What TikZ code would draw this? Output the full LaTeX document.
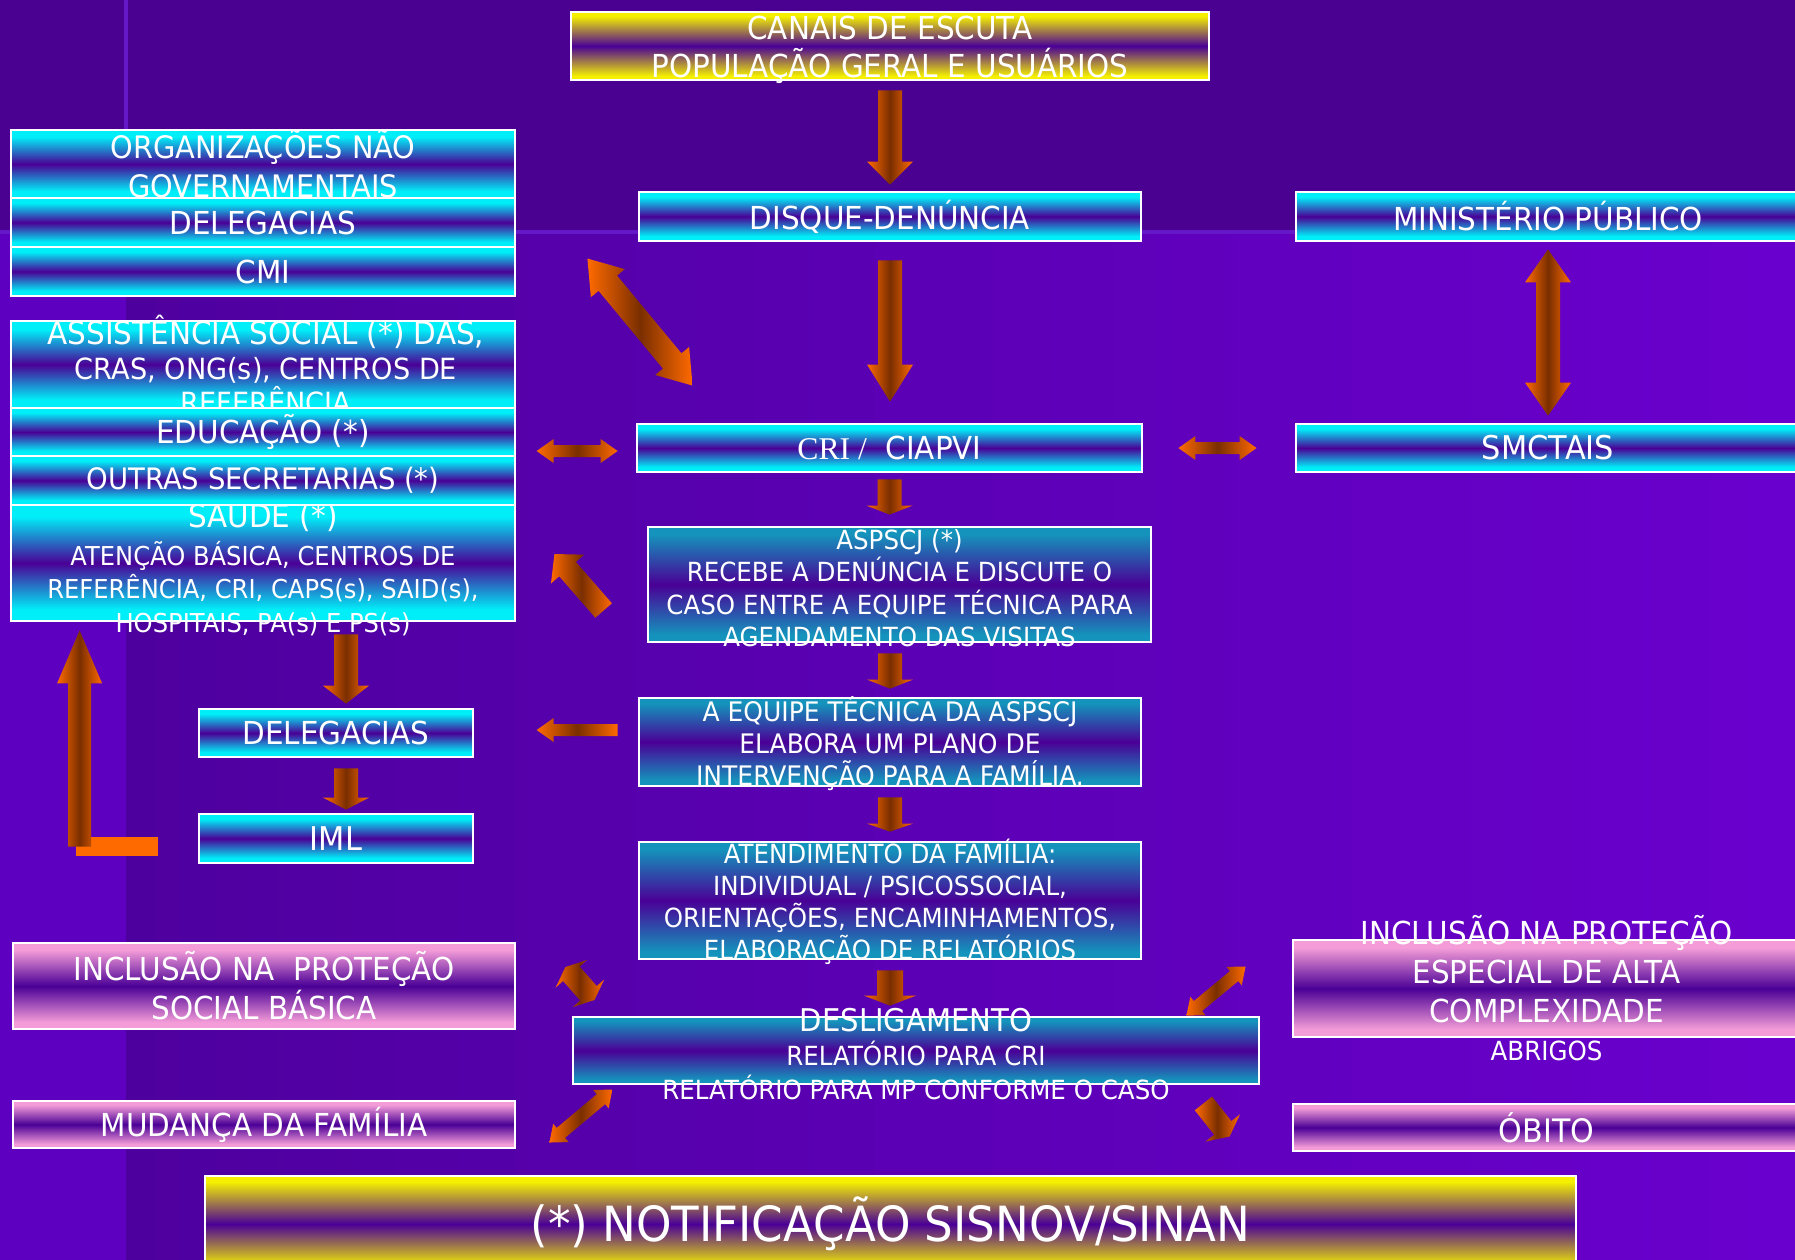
\documentclass[tikz,border=0pt]{standalone}
\usepackage{fontspec}
\setmainfont{DejaVu Sans}[FakeStretch=0.93]
\newfontfamily\crifont{Liberation Serif}
\usetikzlibrary{calc,fit}

\definecolor{bgtop}{HTML}{4A0090}
\definecolor{bgmid}{HTML}{4E009E}
\definecolor{bgright}{HTML}{6A00CE}
\definecolor{bgstrip}{HTML}{5E00C0}
\definecolor{bgline}{HTML}{6418C8}
\definecolor{cyanlight}{HTML}{00EEF8}
\definecolor{tealdark}{HTML}{1494BC}
\definecolor{pinklight}{HTML}{F49CD8}
\definecolor{yellowlight}{HTML}{F4F000}
\definecolor{boxpurple}{HTML}{4A0096}
\definecolor{arrorange}{HTML}{FF6A00}
\definecolor{arrbrown}{HTML}{7A2E00}

\pgfdeclareverticalshading{cyanbar}{100bp}{color(0bp)=(cyanlight); color(30bp)=(cyanlight); color(50bp)=(boxpurple); color(70bp)=(cyanlight); color(100bp)=(cyanlight)}
\pgfdeclareverticalshading{tealbar}{100bp}{color(0bp)=(tealdark); color(28bp)=(tealdark); color(50bp)=(boxpurple); color(72bp)=(tealdark); color(100bp)=(tealdark)}
\pgfdeclareverticalshading{pinkbar}{100bp}{color(0bp)=(pinklight); color(29bp)=(pinklight); color(50bp)=(boxpurple); color(71bp)=(pinklight); color(100bp)=(pinklight)}
\pgfdeclareverticalshading{yellowbar}{100bp}{color(0bp)=(yellowlight); color(28bp)=(yellowlight); color(50bp)=(boxpurple); color(72bp)=(yellowlight); color(100bp)=(yellowlight)}

\tikzset{
	shaft w/.store in=\baw, head w/.store in=\bah, head l/.store in=\bal,
	shaft w=0.12cm, head w=0.23cm, head l=0.25cm,
	small/.style={shaft w=0.06cm, head w=0.12cm, head l=0.17cm},
	arrowfill/.style={left color=arrorange, right color=arrorange, middle color=arrbrown}
}

% block arrow with one head, from #2 to #3
\newcommand{\onearrow}[3][]{%
	\begin{scope}[#1]
		\coordinate (ta) at (#2);
		\coordinate (tb) at (#3);
		\coordinate (hb) at ($(tb)!\bal!(ta)$);
		\shade[arrowfill] ($(ta)!\baw!90:(tb)$) -- ($(hb)!\baw!-90:(ta)$) -- ($(hb)!\bah!-90:(ta)$) -- (tb) -- ($(hb)!\bah!90:(ta)$) -- ($(hb)!\baw!90:(ta)$) -- ($(ta)!\baw!-90:(tb)$) -- cycle;
	\end{scope}}
% block arrow with two heads
\newcommand{\twoarrow}[3][]{%
	\begin{scope}[#1]
		\coordinate (ta) at (#2);
		\coordinate (tb) at (#3);
		\coordinate (ha) at ($(ta)!\bal!(tb)$);
		\coordinate (hb) at ($(tb)!\bal!(ta)$);
		\shade[arrowfill] (ta) -- ($(ha)!\bah!90:(tb)$) -- ($(ha)!\baw!90:(tb)$) -- ($(hb)!\baw!-90:(ta)$) -- ($(hb)!\bah!-90:(ta)$) -- (tb) -- ($(hb)!\bah!90:(ta)$) -- ($(hb)!\baw!90:(ta)$) -- ($(ha)!\baw!-90:(tb)$) -- ($(ha)!\bah!-90:(tb)$) -- cycle;
	\end{scope}}

\begin{document}
\begin{tikzpicture}[x=0.01cm, y=-0.01cm,
	box/.style={draw=white, line width=0.8pt, inner sep=0pt, shade},
	cybox/.style={box, shading=cyanbar},
	tlbox/.style={box, shading=tealbar},
	pkbox/.style={box, shading=pinkbar},
	ylbox/.style={box, shading=yellowbar},
	txt/.style={text=white, align=center, inner sep=0pt}]
	% background
	\useasboundingbox (0,0) rectangle (1795,1259);
	\fill[bgtop] (-5,-5) rectangle (1800,1265);
	\shade[left color=bgmid, right color=bgright] (126,232) rectangle (1800,1265);
	\fill[bgstrip] (-5,232) rectangle (126,1265);
	\draw[bgline, line width=1.2pt] (126,-5) -- (126,232) (-5,232) -- (1800,232);

	% middle column
	\node[ylbox, fit={(571,12) (1209,80)}] (canais) {};
	\node[txt, font=\fontsize{9}{10.8}\selectfont, yshift=-0.035cm] (canaisT) at (canais) {CANAIS DE ESCUTA\\POPULAÇÃO GERAL E USUÁRIOS};
	\node[cybox, fit={(639,192) (1141,241)}] (disque) {};
	\node[txt, font=\fontsize{9}{10.8}\selectfont] (disqueT) at (disque) {DISQUE-DENÚNCIA};
	\node[cybox, fit={(637,424) (1142,472)}] (cri) {};
	\node[txt, font=\fontsize{9}{10.8}\selectfont] (criT) at (cri) {{\crifont CRI /}\ \ CIAPVI};
	\node[tlbox, fit={(648,527) (1151,642)}] (aspscj) {};
	\node[txt, font=\fontsize{7.5}{9.25}\selectfont, yshift=-0.035cm] (aspscjT) at (aspscj) {ASPSCJ (*)\\RECEBE A DENÚNCIA E DISCUTE O\\CASO ENTRE A EQUIPE TÉCNICA PARA\\AGENDAMENTO DAS VISITAS};
	\node[tlbox, fit={(639,698) (1141,786)}] (equipe) {};
	\node[txt, font=\fontsize{7.65}{9.1}\selectfont, yshift=-0.015cm] (equipeT) at (equipe) {A EQUIPE TÉCNICA DA ASPSCJ\\ELABORA UM PLANO DE\\INTERVENÇÃO PARA A FAMÍLIA.};
	\node[tlbox, fit={(639,842) (1141,959)}] (atend) {};
	\node[txt, font=\fontsize{7.5}{9.1}\selectfont, yshift=-0.015cm] (atendT) at (atend) {ATENDIMENTO DA FAMÍLIA:\\INDIVIDUAL / PSICOSSOCIAL,\\ORIENTAÇÕES, ENCAMINHAMENTOS,\\ELABORAÇÃO DE RELATÓRIOS};
	\node[tlbox, fit={(573,1017) (1259,1084)}] (deslig) {};
	\node[txt, font=\fontsize{7.5}{9.6}\selectfont, yshift=-0.035cm] (desligT) at (deslig) {{\fontsize{8.9}{9.6}\selectfont DESLIGAMENTO}\\RELATÓRIO PARA CRI\\RELATÓRIO PARA MP CONFORME O CASO};

	% right column
	\node[cybox, fit={(1296,192) (1800,241)}] (mp) {};
	\node[txt, font=\fontsize{9}{10.8}\selectfont] (mpT) at (mp) {MINISTÉRIO PÚBLICO};
	\node[cybox, fit={(1296,424) (1800,472)}] (smctais) {};
	\node[txt, font=\fontsize{9.3}{10.8}\selectfont] (smctaisT) at (smctais) {SMCTAIS};
	\node[pkbox, fit={(1293,940) (1800,1037)}] (incesp) {};
	\node[txt, font=\fontsize{9}{11}\selectfont] (incespT) at (incesp) {INCLUSÃO NA PROTEÇÃO\\ESPECIAL DE ALTA\\COMPLEXIDADE\\{\fontsize{7.5}{8}\selectfont ABRIGOS}};
	\node[pkbox, fit={(1293,1104) (1800,1151)}] (obito) {};
	\node[txt, font=\fontsize{9.2}{11}\selectfont] (obitoT) at (obito) {ÓBITO};

	% left column
	\node[cybox, fit={(11,130) (515,198)}] (org) {};
	\node[txt, font=\fontsize{8.8}{11.1}\selectfont] (orgT) at (org) {ORGANIZAÇÕES NÃO\\GOVERNAMENTAIS};
	\node[cybox, fit={(11,198) (515,247)}] (deleg) {};
	\node[txt, font=\fontsize{9}{10.8}\selectfont] (delegT) at (deleg) {DELEGACIAS};
	\node[cybox, fit={(11,247) (515,296)}] (cmi) {};
	\node[txt, font=\fontsize{9}{10.8}\selectfont] (cmiT) at (cmi) {CMI};
	\node[cybox, fit={(11,321) (515,408)}] (assist) {};
	\node[txt, font=\fontsize{8.3}{9.7}\selectfont, xshift=0.03cm] (assistT) at (assist) {{\fontsize{9}{9.7}\selectfont ASSISTÊNCIA SOCIAL (*) DAS,}\\CRAS, ONG(s), CENTROS DE\\REFERÊNCIA};
	\node[cybox, fit={(11,408) (515,456)}] (educ) {};
	\node[txt, font=\fontsize{9}{10.8}\selectfont] (educT) at (educ) {EDUCAÇÃO (*)};
	\node[cybox, fit={(11,505) (515,621)}] (saude) {};
	\node[txt, font=\fontsize{7.4}{9.4}\selectfont] (saudeT) at ($(saude)+(0,4)$) {{\fontsize{9}{9.4}\selectfont SAÚDE (*)}\\[1.4pt]ATENÇÃO BÁSICA, CENTROS DE\\REFERÊNCIA, CRI, CAPS(s), SAID(s),\\HOSPITAIS, PA(s) E PS(s)};
	\node[cybox, fit={(11,456) (515,505)}] (outras) {};
	\node[txt, font=\fontsize{8.4}{10}\selectfont] (outrasT) at (outras) {OUTRAS SECRETARIAS (*)};
	\node[cybox, fit={(199,709) (473,757)}] (delegb) {};
	\node[txt, font=\fontsize{9}{10.8}\selectfont] (delegbT) at (delegb) {DELEGACIAS};
	\node[cybox, fit={(199,814) (473,863)}] (iml) {};
	\node[txt, font=\fontsize{9.3}{10.8}\selectfont] (imlT) at (iml) {IML};
	\node[pkbox, fit={(13,943) (515,1029)}] (incbas) {};
	\node[txt, font=\fontsize{9}{11.1}\selectfont] (incbasT) at (incbas) {INCLUSÃO NA\ \ PROTEÇÃO\\SOCIAL BÁSICA};
	\node[pkbox, fit={(13,1101) (515,1148)}] (mudanca) {};
	\node[txt, font=\fontsize{9}{11}\selectfont] (mudancaT) at (mudanca) {MUDANÇA DA FAMÍLIA};

	% bottom bar
	\node[ylbox, fit={(205,1176) (1576,1272)}] (notif) {};
	\node[txt, font=\fontsize{13.8}{16}\selectfont] (notifT) at (notif) {(*) NOTIFICAÇÃO SISNOV/SINAN};

	% arrows of the middle column
	\onearrow[head l=0.23cm]{$(canais.south)+(0,9)$}{$(disque.north)+(0,-6)$}
	\onearrow[head l=0.37cm]{$(disque.south)+(0,18)$}{$(disque.south |- cri.north)+(0,-21)$}
	\onearrow[head l=0.09cm]{$(cri.south)+(0,6)$}{$(cri.south |- aspscj.north)+(0,-11)$}
	\onearrow[head l=0.09cm]{$(equipe.north |- aspscj.south)+(0,10)$}{$(equipe.north)+(0,-8)$}
	\onearrow[head l=0.08cm]{$(equipe.south)+(0,10)$}{$(atend.north)+(0,-9)$}
	\onearrow[head l=0.1cm, shaft w=0.13cm, head w=0.26cm]{$(atend.south)+(0,10)$}{$(atend.south |- deslig.north)+(0,-10)$}
	\twoarrow[head l=0.33cm]{$(mp.south)+(0,7)$}{$(mp.south |- smctais.north)+(0,-7)$}
	\twoarrow[head l=0.32cm, head w=0.22cm]{$(cmi.east)+(71,-13)$}{$(cri.north west)+(57,-37)$}
	\twoarrow[small]{$(cri.west)+(-99,3)$}{$(cri.west)+(-18,3)$}
	\twoarrow[small]{$(cri.east)+(35,0)$}{$(smctais.west)+(-38,0)$}
	\onearrow[shaft w=0.11cm, head w=0.22cm, head l=0.2cm]{$(aspscj.west)+(-43,26)$}{$(saude.east)+(38,-9)$}
	\onearrow[small]{$(equipe.west)+(-20,-12)$}{$(equipe.west)+(-101,-12)$}

	% arrows of the left column
	\onearrow[head l=0.18cm]{$(delegb.north |- saude.south)+(10,12)$}{$(delegb.north)+(10,-4)$}
	\onearrow[head l=0.12cm]{$(delegb.south)+(10,10)$}{$(iml.north)+(10,-3)$}
	\fill[arrorange] ($(iml.west)+(-122,-2)$) rectangle ($(iml.west)+(-40,17)$);
	\onearrow[shaft w=0.115cm, head w=0.225cm, head l=0.53cm]{$(iml.west)+(-118,8)$}{$(saude.south west)+(70,8)$}

	% arrows round DESLIGAMENTO
	\twoarrow[shaft w=0.11cm, head w=0.21cm, head l=0.09cm]{$(incbas.east)+(49,-19)$}{$(incbas.east)+(78,14)$}
	\twoarrow[shaft w=0.065cm, head w=0.12cm, head l=0.15cm]{$(mudanca.east)+(33,18)$}{$(mudanca.east)+(96,-35)$}
	\twoarrow[shaft w=0.065cm, head w=0.12cm, head l=0.15cm]{$(deslig.north east)+(-74,0)$}{$(incesp.west)+(-46,-22)$}
	\onearrow[shaft w=0.11cm, head w=0.22cm, head l=0.11cm]{$(deslig.south east)+(-57,18)$}{$(obito.west)+(-62,9)$}
\end{tikzpicture}
\end{document}
